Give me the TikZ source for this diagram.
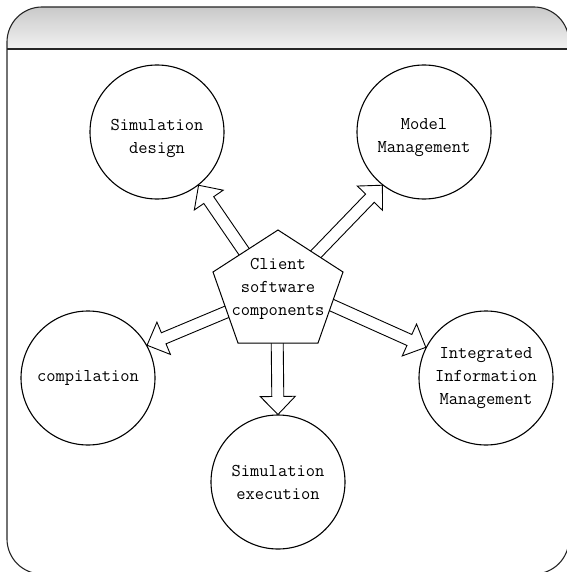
\documentclass[tikz,border=0pt]{standalone}
\usetikzlibrary{calc}
\newcommand\diagfont{\ttfamily\fontsize{18}{23}\selectfont}
% hollow block arrow from a base point (#1) to a tip (#2)
\newcommand\hollowarrow[2]{%
  \coordinate (ha-s) at ($(#1)!-14pt!(#2)$);
  \coordinate (ha-h) at ($(#2)!18pt!(#1)$);
  \draw[arrowbody]
    ($(ha-s)!6pt!90:(#2)$) -- ($(ha-h)!6pt!90:(#2)$) -- ($(ha-h)!17.5pt!90:(#2)$)
    -- (#2)
    -- ($(ha-h)!17.5pt!-90:(#2)$) -- ($(ha-h)!6pt!-90:(#2)$) -- ($(ha-s)!6pt!-90:(#2)$) -- cycle;}
\tikzset{
  frame/.style={draw=black!85, line width=1.1pt},
  bubble/.style={circle, draw, line width=1.1pt, minimum size=134pt, inner sep=0pt,
    align=center, font=\diagfont},
  caption/.style={align=center, font=\diagfont, inner sep=0pt},
  arrowbody/.style={draw, line width=0.9pt, fill=white, line join=miter},
  pentagon/.style={draw, line width=1pt, fill=white, line join=miter},
}
\begin{document}
\begin{tikzpicture}[x=1pt,y=-1pt]
\useasboundingbox (0,0) rectangle (566,572);
% window frame with shaded title band
\begin{scope}
  \clip[rounded corners=35pt] (7,7) rectangle (569,574);
  \shade[top color=black!24, bottom color=black!5] (0,0) rectangle (580,49);
\end{scope}
\draw[frame, rounded corners=35pt] (7,7) rectangle (569,574);
\draw[frame] (7,49) -- (569,49);

% functional modules
\node[bubble] (sd)   at (157,132) {};
\node[caption] (sd-text) at ($(sd)+(0,6)$) {Simulation\\design};
\node[bubble] (mm)   at (424,132) {};
\node[caption] (mm-text) at ($(mm)+(0,6)$) {Model\\Management};
\node[bubble] (comp) at (88,378)  {compilation};
\node[bubble] (iim)  at (486,378) {Integrated\\Information\\Management};
\node[bubble] (exe)  at (278,482) {Simulation\\execution};

% central pentagon corners
\coordinate (pT)  at (278,230);
\coordinate (pR)  at (343,272);
\coordinate (pBR) at (318,343);
\coordinate (pBL) at (238,343);
\coordinate (pL)  at (213,272);

% arrow bases on the pentagon edges
\coordinate (b1) at ($(pL)!0.48!(pT)$);
\coordinate (b2) at ($(pT)!0.58!(pR)$);
\coordinate (b3) at ($(pL)!0.56!(pBL)$);
\coordinate (b4) at ($(pBL)!0.49!(pBR)$);
\coordinate (b5) at ($(pR)!0.465!(pBR)$);

\hollowarrow{b1}{sd.-52}
\hollowarrow{b2}{mm.-128}
\hollowarrow{b3}{comp.29}
\hollowarrow{b4}{exe.90}
\hollowarrow{b5}{iim.153}

\draw[pentagon] (pT) -- (pR) -- (pBR) -- (pBL) -- (pL) -- cycle;
\node[caption] (client) at (278,289) {Client\\software\\components};
\end{tikzpicture}
\end{document}
